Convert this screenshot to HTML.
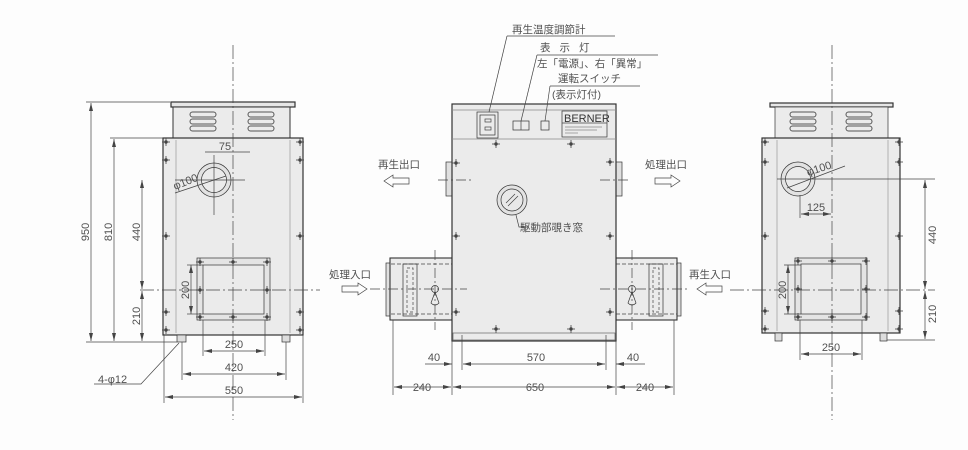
<!DOCTYPE html>
<html><head><meta charset="utf-8"><style>
html,body{margin:0;padding:0;background:#fdfdfd;}
svg{display:block}
text{font-family:"Liberation Sans","Noto Sans CJK JP",sans-serif;fill:#505050;}
.j{font-size:10.5px;}
.d{font-size:11px;}
</style></head><body>
<svg width="968" height="450" viewBox="0 0 968 450" xmlns="http://www.w3.org/2000/svg">
<defs>
<marker id="a" markerWidth="8" markerHeight="6" refX="8" refY="3" orient="auto-start-reverse" markerUnits="userSpaceOnUse"><path d="M0,1 L8,3 L0,5z" fill="#444"/></marker>
<g id="louv" fill="none" stroke="#555" stroke-width="1">
<rect x="0" y="0" width="26" height="5" rx="2.5"/><rect x="0" y="7" width="26" height="5" rx="2.5"/><rect x="0" y="14" width="26" height="5" rx="2.5"/>
</g>
<g id="bolt" stroke="#444" stroke-width="0.8"><line x1="-4" y1="0" x2="4" y2="0"/><line x1="0" y1="-4" x2="0" y2="4"/><circle r="1.3" fill="#444"/></g>
</defs>
<g stroke="#444" stroke-width="0.7" fill="none">

<!-- ===== LEFT VIEW ===== -->
<rect x="171" y="102" width="124" height="5" fill="#e6e6e6" stroke="#333" stroke-width="1.2"/>
<rect x="173" y="107" width="117" height="31" fill="#ebebeb" stroke="#333" stroke-width="1"/>
<use href="#louv" x="190" y="112"/><use href="#louv" x="248" y="112"/>
<rect x="163" y="138" width="140" height="197" fill="#ebebeb" stroke="#333" stroke-width="1.2"/>
<line x1="176" y1="140" x2="176" y2="333" stroke="#999"/><line x1="290" y1="140" x2="290" y2="333" stroke="#999"/>
<rect x="177" y="335" width="9" height="7" fill="#ddd" stroke="#333"/>
<rect x="282" y="335" width="8" height="7" fill="#ddd" stroke="#333"/>
<circle cx="214" cy="180" r="17" fill="#e2e2e2" stroke="#333"/>
<circle cx="214" cy="180" r="12.5" fill="#ebebeb" stroke="#333"/>
<rect x="197" y="258" width="73" height="62" fill="#e4e4e4" stroke="#333"/>
<rect x="203" y="265" width="61" height="49" fill="#ebebeb" stroke="#333"/>
<line x1="233" y1="45" x2="233" y2="420" stroke-dasharray="14,3,2,3"/>
<line x1="140" y1="290" x2="320" y2="290" stroke-dasharray="14,3,2,3"/>
<line x1="175" y1="180" x2="245" y2="180"/>
<line x1="214" y1="155" x2="214" y2="215"/>
<line x1="86" y1="102" x2="170" y2="102"/><line x1="86" y1="342" x2="177" y2="342"/>
<line x1="110" y1="138" x2="163" y2="138"/>
<line x1="91" y1="103" x2="91" y2="341" marker-start="url(#a)" marker-end="url(#a)"/>
<line x1="114" y1="139" x2="114" y2="341" marker-start="url(#a)" marker-end="url(#a)"/>
<line x1="142" y1="180" x2="142" y2="289" marker-start="url(#a)" marker-end="url(#a)"/>
<line x1="142" y1="291" x2="142" y2="341" marker-start="url(#a)" marker-end="url(#a)"/>
<line x1="191" y1="265" x2="191" y2="314" marker-start="url(#a)" marker-end="url(#a)"/>
<line x1="187" y1="265" x2="203" y2="265"/><line x1="187" y1="314" x2="203" y2="314"/>
<line x1="205" y1="152" x2="250" y2="152"/>
<line x1="203" y1="320" x2="203" y2="356"/><line x1="265" y1="320" x2="265" y2="356"/>
<line x1="204" y1="351" x2="264" y2="351" marker-start="url(#a)" marker-end="url(#a)"/>
<line x1="182" y1="342" x2="182" y2="380"/><line x1="286" y1="342" x2="286" y2="380"/>
<line x1="183" y1="374" x2="285" y2="374" marker-start="url(#a)" marker-end="url(#a)"/>
<line x1="164" y1="335" x2="164" y2="403"/><line x1="303" y1="335" x2="303" y2="403"/>
<line x1="165" y1="397" x2="302" y2="397" marker-start="url(#a)" marker-end="url(#a)"/>
<polyline points="94,384 141,384 179,343"/>
<line x1="175" y1="193" x2="226" y2="176"/>

<!-- ===== CENTER VIEW ===== -->
<rect x="386" y="263" width="5" height="53" fill="#e0e0e0" stroke="#333"/>
<rect x="390" y="258" width="62" height="62" fill="#ebebeb" stroke="#333" stroke-width="1.1"/>
<line x1="391" y1="264" x2="452" y2="264" stroke-dasharray="4,2"/>
<line x1="391" y1="314" x2="452" y2="314" stroke-dasharray="4,2"/>
<rect x="403" y="264" width="14" height="52" stroke="#333"/>
<rect x="407" y="268" width="6" height="44" stroke-dasharray="3,2"/>
<rect x="677" y="263" width="4" height="53" fill="#e0e0e0" stroke="#333"/>
<rect x="616" y="258" width="61" height="62" fill="#ebebeb" stroke="#333" stroke-width="1.1"/>
<line x1="616" y1="264" x2="677" y2="264" stroke-dasharray="4,2"/>
<line x1="616" y1="314" x2="677" y2="314" stroke-dasharray="4,2"/>
<rect x="649" y="264" width="14" height="52" stroke="#333"/>
<rect x="653" y="268" width="6" height="44" stroke-dasharray="3,2"/>
<rect x="446" y="162" width="6" height="34" fill="#e0e0e0" stroke="#333"/>
<rect x="616" y="162" width="6" height="34" fill="#e0e0e0" stroke="#333"/>
<rect x="452" y="104" width="164" height="237" fill="#ebebeb" stroke="#333" stroke-width="1.2"/>
<line x1="452" y1="110" x2="616" y2="110" stroke="#888"/>
<line x1="452" y1="139" x2="616" y2="139" stroke="#888"/>
<rect x="453" y="333" width="162" height="7" stroke="#666"/>
<rect x="477" y="112" width="21" height="26" stroke="#333"/>
<rect x="480" y="115" width="15" height="20" stroke="#333"/>
<rect x="485" y="119" width="6" height="3"/><rect x="485" y="127" width="6" height="3"/>
<rect x="513" y="121" width="16" height="9" stroke="#333"/><line x1="521" y1="121" x2="521" y2="130"/>
<rect x="541" y="121" width="8" height="9" stroke="#333"/>
<rect x="562" y="111" width="45" height="26" stroke="#333"/>
<line x1="562" y1="123" x2="607" y2="123"/>
<line x1="565" y1="127" x2="602" y2="127" stroke="#888"/><line x1="565" y1="130" x2="597" y2="130" stroke="#888"/><line x1="565" y1="133" x2="578" y2="133" stroke="#888"/>
<circle cx="512" cy="200" r="15" fill="#e2e2e2" stroke="#333"/>
<circle cx="512" cy="200" r="11" fill="#e8e8e8" stroke="#333"/>
<line x1="506" y1="203" x2="515" y2="194"/><line x1="508" y1="206" x2="518" y2="196"/>
<polyline points="516,215 519,227 528,227"/>
<line x1="438" y1="180" x2="472" y2="180" stroke-dasharray="10,3,2,3"/>
<line x1="600" y1="180" x2="630" y2="180" stroke-dasharray="10,3,2,3"/>
<line x1="370" y1="289" x2="467" y2="289" stroke-dasharray="10,3,2,3"/>
<line x1="600" y1="289" x2="690" y2="289" stroke-dasharray="10,3,2,3"/>
<line x1="435" y1="250" x2="435" y2="330" stroke-dasharray="10,3,2,3"/>
<line x1="632" y1="250" x2="632" y2="330" stroke-dasharray="10,3,2,3"/>
<circle cx="435" cy="289" r="3.5" stroke="#333"/><path d="M435,292 L431,303 Q435,307 439,303z" stroke="#333"/>
<circle cx="632" cy="289" r="3.5" stroke="#333"/><path d="M632,292 L628,303 Q632,307 636,303z" stroke="#333"/>
<line x1="507" y1="36" x2="615" y2="36"/><line x1="507" y1="36" x2="489" y2="112"/>
<line x1="537" y1="55" x2="658" y2="55"/><line x1="537" y1="55" x2="521" y2="121"/>
<line x1="550" y1="86" x2="640" y2="86"/><line x1="550" y1="86" x2="545" y2="121"/>
<line x1="393" y1="320" x2="393" y2="395"/><line x1="452" y1="341" x2="452" y2="395"/>
<line x1="462" y1="335" x2="462" y2="370"/><line x1="606" y1="335" x2="606" y2="370"/>
<line x1="616" y1="341" x2="616" y2="395"/><line x1="674" y1="320" x2="674" y2="395"/>
<line x1="425" y1="364" x2="452" y2="364" marker-end="url(#a)"/>
<line x1="463" y1="364" x2="605" y2="364" marker-start="url(#a)" marker-end="url(#a)"/>
<line x1="616" y1="364" x2="645" y2="364" marker-start="url(#a)"/>
<line x1="394" y1="387" x2="451" y2="387" marker-start="url(#a)" marker-end="url(#a)"/>
<line x1="453" y1="387" x2="615" y2="387" marker-start="url(#a)" marker-end="url(#a)"/>
<line x1="617" y1="387" x2="673" y2="387" marker-start="url(#a)" marker-end="url(#a)"/>
<path d="M409,178 L393,178 L393,175 L384,181 L393,187 L393,184 L409,184z" stroke="#444"/>
<path d="M655,178 L671,178 L671,175 L680,181 L671,187 L671,184 L655,184z" stroke="#444"/>
<path d="M342,286 L358,286 L358,283 L367,289 L358,295 L358,292 L342,292z" stroke="#444"/>
<path d="M722,286 L706,286 L706,283 L697,289 L706,295 L706,292 L722,292z" stroke="#444"/>

<!-- ===== RIGHT VIEW ===== -->
<rect x="770" y="103" width="123" height="4" fill="#e6e6e6" stroke="#333" stroke-width="1.2"/>
<rect x="775" y="107" width="113" height="31" fill="#ebebeb" stroke="#333"/>
<use href="#louv" x="790" y="112"/><use href="#louv" x="846" y="112"/>
<rect x="762" y="138" width="138" height="195" fill="#ebebeb" stroke="#333" stroke-width="1.2"/>
<line x1="777" y1="140" x2="777" y2="331" stroke="#999"/><line x1="888" y1="140" x2="888" y2="331" stroke="#999"/>
<rect x="775" y="333" width="7" height="8" fill="#ddd" stroke="#333"/>
<rect x="880" y="333" width="7" height="8" fill="#ddd" stroke="#333"/>
<circle cx="798" cy="179" r="17" fill="#e2e2e2" stroke="#333"/>
<circle cx="798" cy="179" r="12.5" fill="#ebebeb" stroke="#333"/>
<rect x="795" y="258" width="72" height="62" fill="#e4e4e4" stroke="#333"/>
<rect x="801" y="264" width="60" height="50" fill="#ebebeb" stroke="#333"/>
<line x1="832" y1="45" x2="832" y2="420" stroke-dasharray="14,3,2,3"/>
<line x1="730" y1="290" x2="935" y2="290" stroke-dasharray="14,3,2,3"/>
<line x1="777" y1="179" x2="935" y2="179"/>
<line x1="787" y1="188" x2="845" y2="166"/>
<line x1="800" y1="195" x2="800" y2="218"/>
<line x1="801" y1="214" x2="831" y2="214" marker-start="url(#a)" marker-end="url(#a)"/>
<line x1="925" y1="180" x2="925" y2="289" marker-start="url(#a)" marker-end="url(#a)"/>
<line x1="925" y1="291" x2="925" y2="339" marker-start="url(#a)" marker-end="url(#a)"/>
<line x1="887" y1="340" x2="935" y2="340"/>
<line x1="788" y1="265" x2="788" y2="314" marker-start="url(#a)" marker-end="url(#a)"/>
<line x1="784" y1="265" x2="801" y2="265"/><line x1="784" y1="314" x2="801" y2="314"/>
<line x1="800" y1="320" x2="800" y2="360"/><line x1="862" y1="320" x2="862" y2="360"/>
<line x1="801" y1="354" x2="861" y2="354" marker-start="url(#a)" marker-end="url(#a)"/>
</g>

<g>
<use href="#bolt" x="166" y="142"/><use href="#bolt" x="166" y="160"/><use href="#bolt" x="166" y="236"/><use href="#bolt" x="166" y="312"/><use href="#bolt" x="166" y="330"/>
<use href="#bolt" x="300" y="142"/><use href="#bolt" x="300" y="160"/><use href="#bolt" x="300" y="236"/><use href="#bolt" x="300" y="312"/><use href="#bolt" x="300" y="330"/>
<use href="#bolt" x="233" y="262"/><use href="#bolt" x="233" y="317"/><use href="#bolt" x="200" y="290"/><use href="#bolt" x="267" y="290"/><use href="#bolt" x="200" y="262"/><use href="#bolt" x="267" y="262"/><use href="#bolt" x="200" y="317"/><use href="#bolt" x="267" y="317"/>
<use href="#bolt" x="496" y="144"/><use href="#bolt" x="571" y="144"/><use href="#bolt" x="456" y="163"/><use href="#bolt" x="610" y="162"/><use href="#bolt" x="456" y="236"/><use href="#bolt" x="610" y="236"/><use href="#bolt" x="456" y="312"/><use href="#bolt" x="610" y="312"/><use href="#bolt" x="496" y="329"/><use href="#bolt" x="571" y="329"/>
<use href="#bolt" x="765" y="142"/><use href="#bolt" x="765" y="162"/><use href="#bolt" x="765" y="236"/><use href="#bolt" x="765" y="311"/><use href="#bolt" x="765" y="329"/>
<use href="#bolt" x="899" y="142"/><use href="#bolt" x="899" y="162"/><use href="#bolt" x="899" y="236"/><use href="#bolt" x="899" y="311"/><use href="#bolt" x="899" y="329"/>
<use href="#bolt" x="832" y="261"/><use href="#bolt" x="832" y="317"/><use href="#bolt" x="798" y="289"/><use href="#bolt" x="866" y="289"/><use href="#bolt" x="798" y="261"/><use href="#bolt" x="866" y="261"/><use href="#bolt" x="798" y="317"/><use href="#bolt" x="866" y="317"/>
</g>

<g>
<text class="d" x="0" y="0" transform="translate(89,232) rotate(-90)" text-anchor="middle">950</text>
<text class="d" x="0" y="0" transform="translate(112,232) rotate(-90)" text-anchor="middle">810</text>
<text class="d" x="0" y="0" transform="translate(140,232) rotate(-90)" text-anchor="middle">440</text>
<text class="d" x="0" y="0" transform="translate(140,316) rotate(-90)" text-anchor="middle">210</text>
<text class="d" x="0" y="0" transform="translate(189,290) rotate(-90)" text-anchor="middle">200</text>
<text class="d" x="225" y="150" text-anchor="middle">75</text>
<text class="d" x="0" y="0" transform="translate(175,190) rotate(-22)">φ100</text>
<text class="d" x="234" y="348" text-anchor="middle">250</text>
<text class="d" x="234" y="371" text-anchor="middle">420</text>
<text class="d" x="234" y="394" text-anchor="middle">550</text>
<text class="d" x="98" y="383">4-φ12</text>

<text class="j" x="512" y="33">再生温度調節計</text>
<text class="j" x="540" y="51" letter-spacing="9">表示灯</text>
<text class="j" x="537" y="67">左「電源」、右「異常」</text>
<text class="j" x="558" y="82">運転スイッチ</text>
<text class="j" x="552" y="98">(表示灯付)</text>
<text x="564" y="122" style="font-size:11px;fill:#333">BERNER</text>
<text class="j" x="378" y="168">再生出口</text>
<text class="j" x="645" y="168">処理出口</text>
<text class="j" x="329" y="278">処理入口</text>
<text class="j" x="689" y="278">再生入口</text>
<text class="j" x="520" y="231">駆動部覗き窓</text>
<text class="d" x="434" y="361" text-anchor="middle">40</text>
<text class="d" x="536" y="361" text-anchor="middle">570</text>
<text class="d" x="633" y="361" text-anchor="middle">40</text>
<text class="d" x="422" y="391" text-anchor="middle">240</text>
<text class="d" x="535" y="391" text-anchor="middle">650</text>
<text class="d" x="645" y="391" text-anchor="middle">240</text>

<text class="d" x="0" y="0" transform="translate(808,176) rotate(-18)">φ100</text>
<text class="d" x="816" y="211" text-anchor="middle">125</text>
<text class="d" x="0" y="0" transform="translate(936,235) rotate(-90)" text-anchor="middle">440</text>
<text class="d" x="0" y="0" transform="translate(936,314) rotate(-90)" text-anchor="middle">210</text>
<text class="d" x="0" y="0" transform="translate(786,290) rotate(-90)" text-anchor="middle">200</text>
<text class="d" x="831" y="351" text-anchor="middle">250</text>
</g>
</svg>
</body></html>
